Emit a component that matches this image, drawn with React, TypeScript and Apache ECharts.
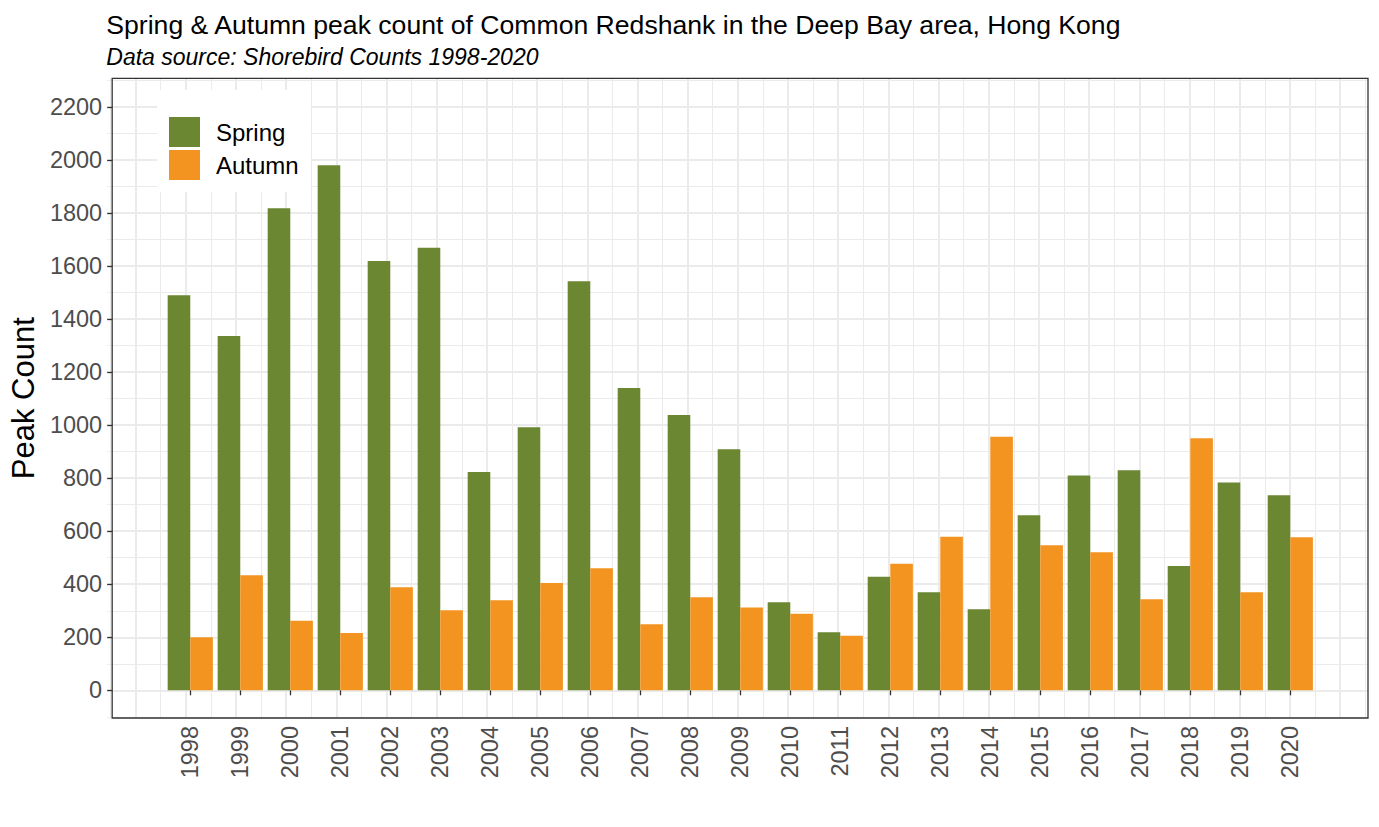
import React, { useEffect, useRef } from "react";
import * as echarts from "echarts";

const TITLE = "Spring & Autumn peak count of Common Redshank in the Deep Bay area, Hong Kong";
const SUBTITLE = "Data source: Shorebird Counts 1998-2020";
const Y_NAME = "Peak Count";

const years = [1998, 1999, 2000, 2001, 2002, 2003, 2004, 2005, 2006, 2007, 2008, 2009, 2010, 2011, 2012, 2013, 2014, 2015, 2016, 2017, 2018, 2019, 2020];
const spring = [1490, 1336, 1818, 1980, 1619, 1669, 823, 992, 1543, 1140, 1038, 909, 332, 219, 428, 370, 306, 660, 810, 830, 469, 784, 736];
const autumn = [200, 434, 262, 216, 389, 302, 340, 405, 460, 249, 351, 312, 289, 206, 477, 579, 956, 547, 521, 343, 951, 370, 577];
const yTicks = [0, 200, 400, 600, 800, 1000, 1200, 1400, 1600, 1800, 2000, 2200];

const FONT = "'Liberation Sans', Arial, Helvetica, sans-serif";
const GREEN = "#6B8732";
const ORANGE = "#F39421";
const GRID_COLOR = "#EBEBEB";

// panel pixel geometry
const W = 1379;
const H = 827;
const PANEL_L = 107.3;
const PANEL_R = 1368;
const PANEL_T = 78.3;
const PANEL_B = 718;
const X0 = 185.7; // pixel of 1998
const PX_YEAR = 50.195;
const Y0 = 690.3; // pixel of 0
const PX_UNIT = 0.26515;

const xPix = (v: number) => X0 + (v - 1998) * PX_YEAR;
const yPix = (v: number) => Y0 - v * PX_UNIT;
const xVal = (p: number) => 1998 + (p - X0) / PX_YEAR;
const yVal = (p: number) => (Y0 - p) / PX_UNIT;

const hidden = {
  axisLine: { show: false },
  axisTick: { show: false },
  axisLabel: { show: false },
};

export default function App() {
  const ref = useRef<HTMLDivElement>(null);
  useEffect(() => {
    if (!ref.current) return;
    const chart = echarts.init(ref.current, null, { renderer: "svg" });

    const grids = [
      { left: PANEL_L, right: W - PANEL_R, top: PANEL_T, bottom: H - PANEL_B, show: true, borderColor: "#333333", borderWidth: 1.3, backgroundColor: "transparent", z: 3 },
      { left: xPix(1996.5), right: W - xPix(2021.5), top: PANEL_T, bottom: H - PANEL_B },
      { left: xPix(1997), right: W - xPix(2021), top: PANEL_T, bottom: H - PANEL_B },
      { left: PANEL_L, right: W - PANEL_R, top: yPix(2300), bottom: H - yPix(-100) },
      { left: PANEL_L, right: W - PANEL_R, top: yPix(2200), bottom: H - yPix(0) },
    ];

    const option: any = {
      animation: false,
      textStyle: { fontFamily: FONT },
      title: [
        { text: TITLE, left: PANEL_L - 1, top: 11, padding: 0, textStyle: { fontFamily: FONT, fontSize: 26.6, fontWeight: "normal", color: "#000" } },
        { text: SUBTITLE, left: PANEL_L - 1, top: 45, padding: 0, textStyle: { fontFamily: FONT, fontSize: 23, fontStyle: "italic", fontWeight: "normal", color: "#000" } },
      ],
      legend: {
        data: ["Spring", "Autumn"],
        orient: "vertical",
        left: 157,
        top: 90,
        padding: [27, 12, 12, 12],
        backgroundColor: "#ffffff",
        itemGap: 3,
        itemWidth: 31,
        itemHeight: 30,
        icon: "rect",
        textStyle: { fontFamily: FONT, fontSize: 24, color: "#000", padding: [0, 0, 0, 11] },
        z: 5,
      },
      grid: grids,
      xAxis: [
        {
          type: "value", gridIndex: 0, min: xVal(PANEL_L), max: xVal(PANEL_R),
          axisLine: { show: false },
          splitLine: { show: false },
          axisTick: { show: true, length: 5, customValues: years, lineStyle: { color: "#333333", width: 1.3 } },
          axisLabel: { show: true, rotate: 90, customValues: years, margin: 8, fontSize: 23.5, color: "#4D4D4D", fontFamily: FONT, formatter: (v: number) => String(v) },
        },
        { type: "value", gridIndex: 1, min: 1996.5, max: 2021.5, interval: 0.5, ...hidden, splitLine: { show: true, lineStyle: { color: GRID_COLOR, width: 1 } } },
        { type: "value", gridIndex: 2, min: 1997, max: 2021, interval: 1, ...hidden, splitLine: { show: true, lineStyle: { color: GRID_COLOR, width: 2 } } },
        { type: "value", gridIndex: 3, min: 0, max: 1, ...hidden, splitLine: { show: false } },
        { type: "value", gridIndex: 4, min: 0, max: 1, ...hidden, splitLine: { show: false } },
      ],
      yAxis: [
        {
          type: "value", gridIndex: 0, min: yVal(PANEL_B), max: yVal(PANEL_T),
          axisLine: { show: false },
          splitLine: { show: false },
          axisTick: { show: true, length: 5, customValues: yTicks, lineStyle: { color: "#333333", width: 1.3 } },
          axisLabel: { show: true, customValues: yTicks, margin: 10, fontSize: 23.5, color: "#4D4D4D", fontFamily: FONT, formatter: (v: number) => String(v) },
          name: Y_NAME,
          nameLocation: "middle",
          nameGap: 73,
          nameTextStyle: { fontSize: 31, color: "#000", fontFamily: FONT },
        },
        { type: "value", gridIndex: 1, min: 0, max: 1, ...hidden, splitLine: { show: false } },
        { type: "value", gridIndex: 2, min: 0, max: 1, ...hidden, splitLine: { show: false } },
        { type: "value", gridIndex: 3, min: -100, max: 2300, interval: 100, ...hidden, splitLine: { show: true, lineStyle: { color: GRID_COLOR, width: 1 } } },
        { type: "value", gridIndex: 4, min: 0, max: 2200, interval: 200, ...hidden, splitLine: { show: true, lineStyle: { color: GRID_COLOR, width: 2 } } },
      ],
      series: [
        {
          name: "Spring", type: "bar", xAxisIndex: 0, yAxisIndex: 0,
          data: years.map((y, i) => [y, spring[i]]),
          barWidth: 22.6, barGap: "0%",
          itemStyle: { color: GREEN }, z: 4,
        },
        {
          name: "Autumn", type: "bar", xAxisIndex: 0, yAxisIndex: 0,
          data: years.map((y, i) => [y, autumn[i]]),
          barWidth: 22.6, barGap: "0%",
          itemStyle: { color: ORANGE }, z: 4,
        },
      ],
    };
    chart.setOption(option);
    return () => chart.dispose();
  }, []);
  return <div ref={ref} style={{ position: "absolute", left: 0, top: 0, width: W, height: H, background: "#fff" }} />;
}
